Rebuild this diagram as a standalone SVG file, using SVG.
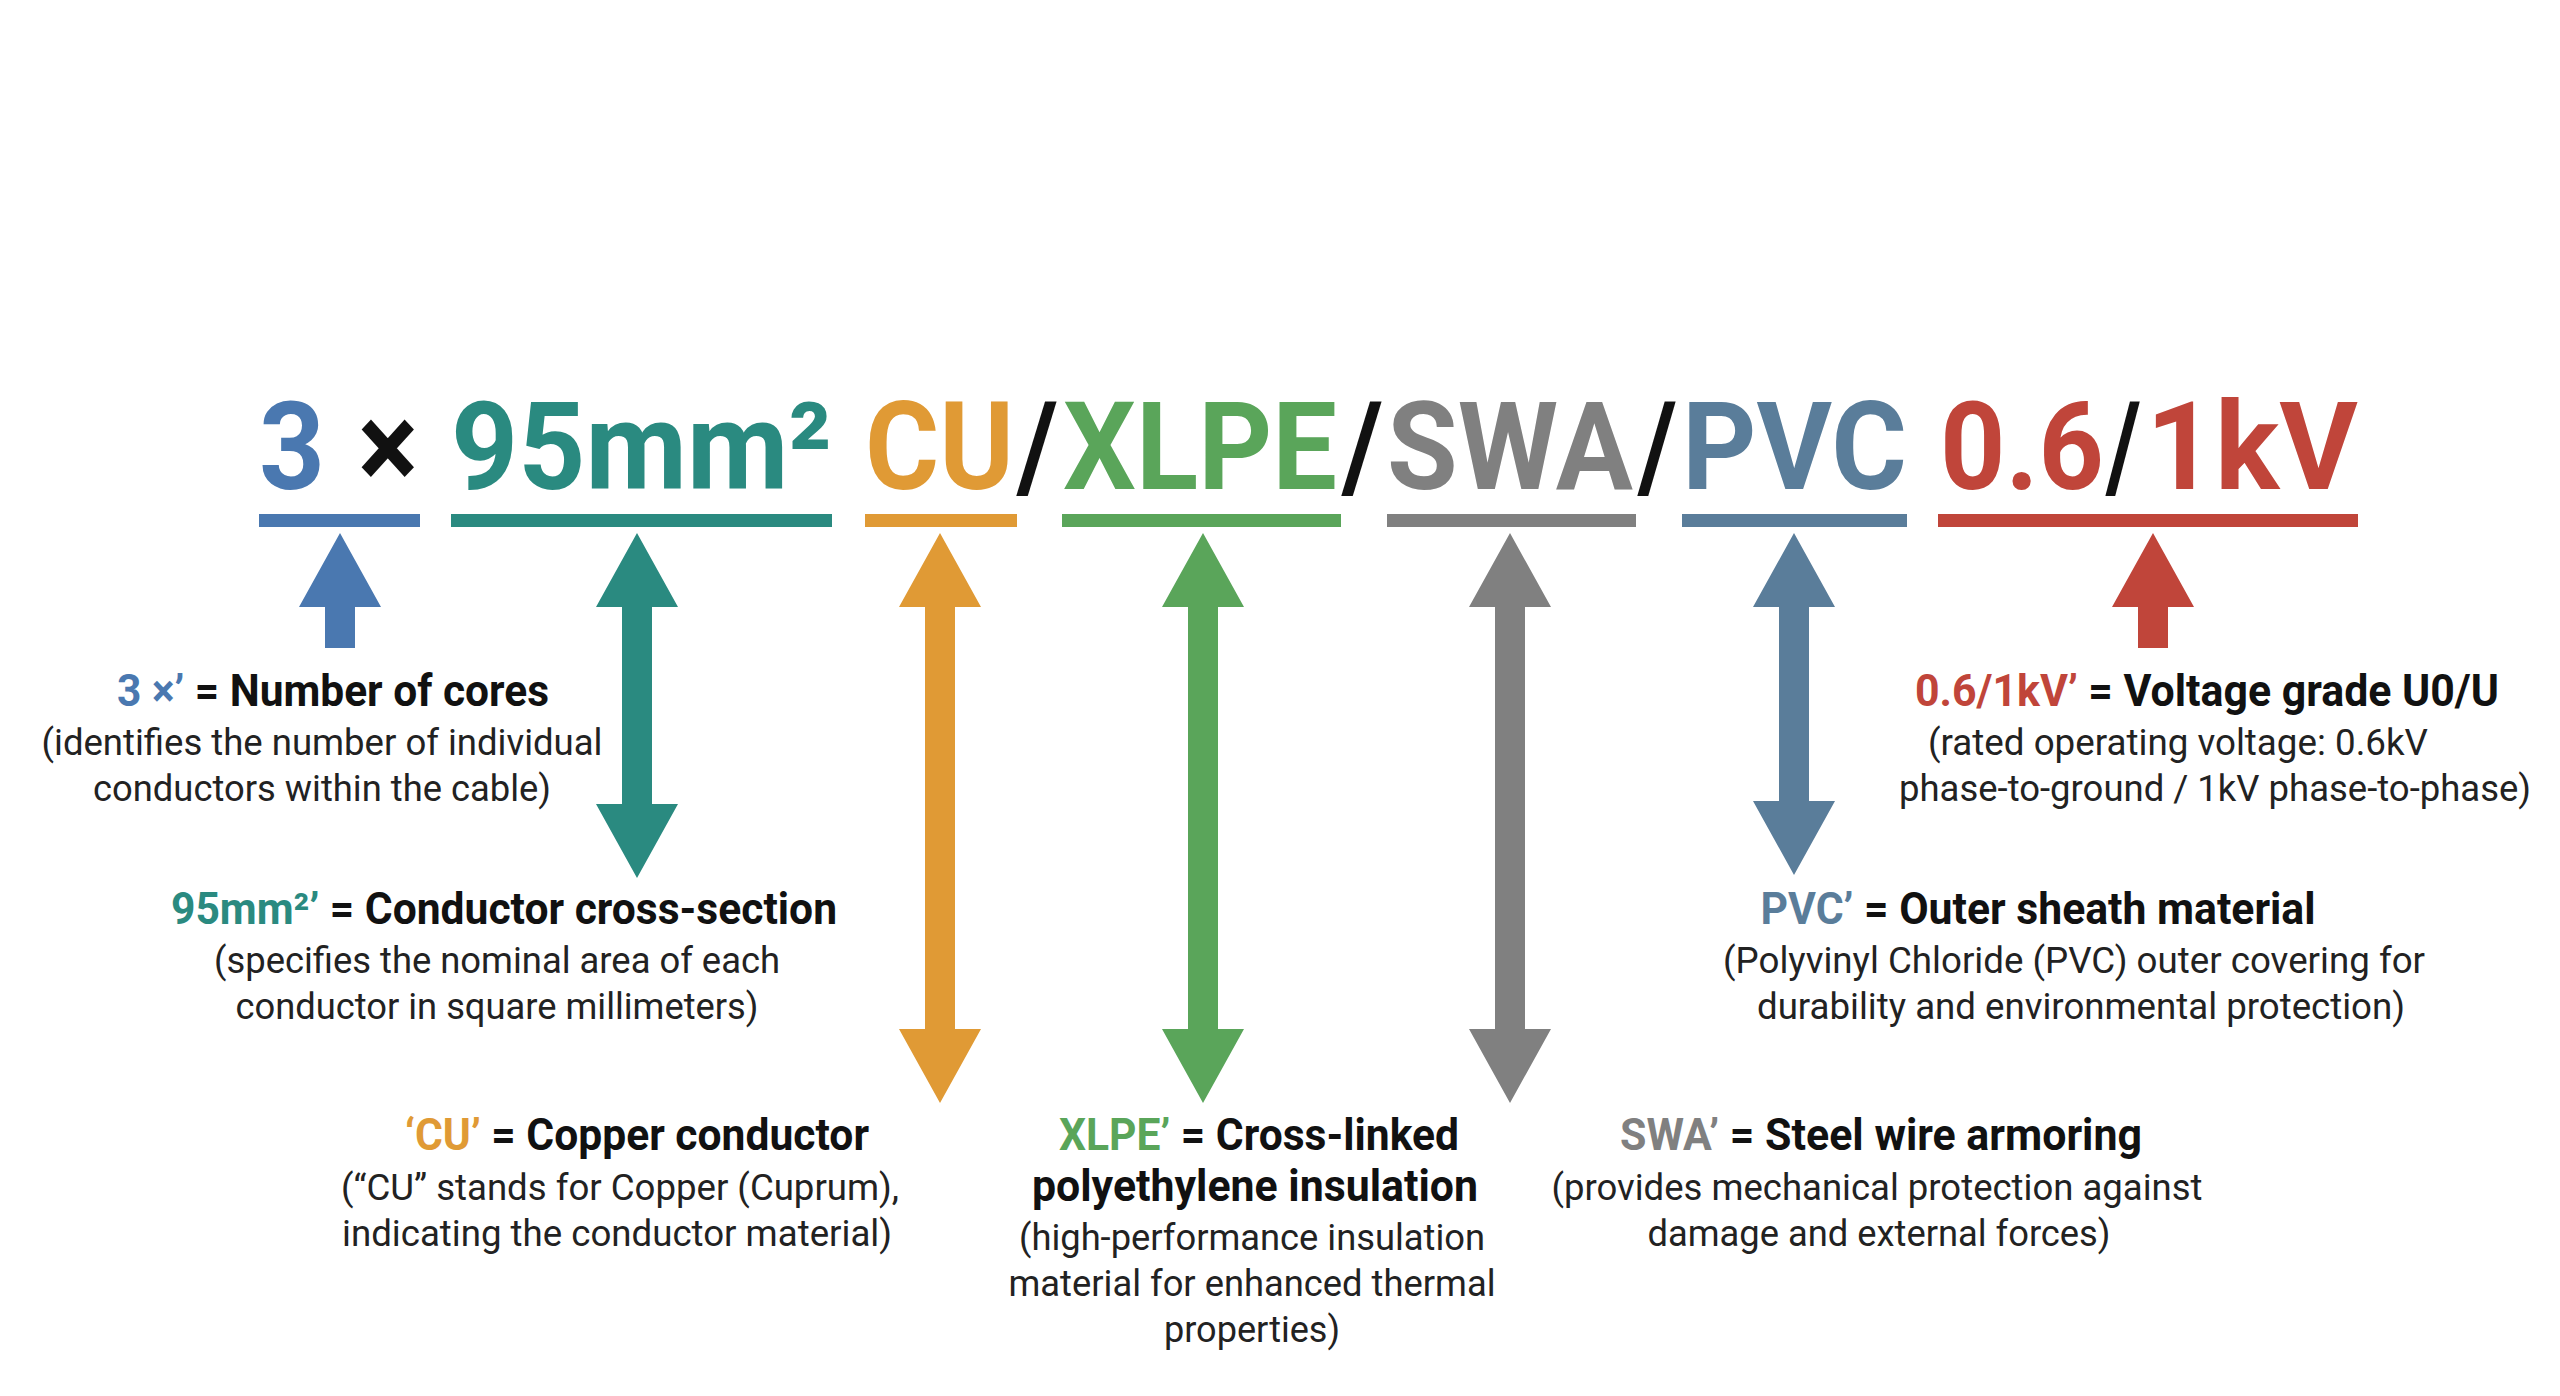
<svg xmlns="http://www.w3.org/2000/svg" width="2560" height="1396" viewBox="0 0 2560 1396">
<style>
.big{font-family:Roboto,"Liberation Sans",sans-serif;font-weight:bold;font-size:122px}
.h{font-family:Roboto,"Liberation Sans",sans-serif;font-weight:bold;font-size:44px;fill:#111;text-anchor:middle}
.b{font-family:Roboto,"Liberation Sans",sans-serif;font-size:36px;fill:#222;text-anchor:middle}
.c1{fill:#4a78b0}.c2{fill:#2a8a80}.c3{fill:#e09a35}.c4{fill:#5aa55a}.c5{fill:#808080}.c6{fill:#5a7d9a}.c7{fill:#c0453a}.k{fill:#111}
</style>
<rect width="2560" height="1396" fill="#fff"/>
<g id="code">
<text class="big c1" x="259" y="489" textLength="66" lengthAdjust="spacingAndGlyphs">3</text>
<text class="big k" x="358" y="489" textLength="60" lengthAdjust="spacingAndGlyphs">×</text>
<text class="big c2" x="451" y="489" textLength="381" lengthAdjust="spacingAndGlyphs">95mm²</text>
<text class="big c3" x="865" y="489" textLength="149" lengthAdjust="spacingAndGlyphs">CU</text>
<text class="big k" x="1017" y="489" textLength="41" lengthAdjust="spacingAndGlyphs">/</text>
<text class="big c4" x="1063" y="489" textLength="274" lengthAdjust="spacingAndGlyphs">XLPE</text>
<text class="big k" x="1342" y="489" textLength="41" lengthAdjust="spacingAndGlyphs">/</text>
<text class="big c5" x="1387" y="489" textLength="246" lengthAdjust="spacingAndGlyphs">SWA</text>
<text class="big k" x="1638" y="489" textLength="39" lengthAdjust="spacingAndGlyphs">/</text>
<text class="big c6" x="1682" y="489" textLength="225" lengthAdjust="spacingAndGlyphs">PVC</text>
<text class="big c7" x="1940" y="489" textLength="164" lengthAdjust="spacingAndGlyphs">0.6</text>
<text class="big k" x="2106" y="489" textLength="35" lengthAdjust="spacingAndGlyphs">/</text>
<text class="big c7" x="2146" y="489" textLength="212" lengthAdjust="spacingAndGlyphs">1kV</text>
</g>
<g id="underlines">
<rect class="c1" x="259" y="514" width="161" height="13"/>
<rect class="c2" x="451" y="514" width="381" height="13"/>
<rect class="c3" x="865" y="514" width="152" height="13"/>
<rect class="c4" x="1062" y="514" width="279" height="13"/>
<rect class="c5" x="1387" y="514" width="249" height="13"/>
<rect class="c6" x="1682" y="514" width="225" height="13"/>
<rect class="c7" x="1938" y="514" width="420" height="13"/>
</g>
<g id="connectors">
<polygon class="c1" points="340,533 381,607 355,607 355,648 325,648 325,607 299,607"/>
<polygon class="c2" points="637,533 678,607 652,607 652,804 678,804 637,878 596,804 622,804 622,607 596,607"/>
<polygon class="c3" points="940,533 981,607 955,607 955,1029 981,1029 940,1103 899,1029 925,1029 925,607 899,607"/>
<polygon class="c4" points="1203,533 1244,607 1218,607 1218,1029 1244,1029 1203,1103 1162,1029 1188,1029 1188,607 1162,607"/>
<polygon class="c5" points="1510,533 1551,607 1525,607 1525,1029 1551,1029 1510,1103 1469,1029 1495,1029 1495,607 1469,607"/>
<polygon class="c6" points="1794,533 1835,607 1809,607 1809,801 1835,801 1794,875 1753,801 1779,801 1779,607 1753,607"/>
<polygon class="c7" points="2153,533 2194,607 2168,607 2168,648 2138,648 2138,607 2112,607"/>
</g>
<g id="n1">
<text class="h" x="333" y="706" textLength="432" lengthAdjust="spacingAndGlyphs"><tspan class="c1">3 ×’</tspan> = Number of cores</text>
<text class="b" x="322" y="755" textLength="561" lengthAdjust="spacingAndGlyphs">(identifies the number of individual</text>
<text class="b" x="322" y="801" textLength="458" lengthAdjust="spacingAndGlyphs">conductors within the cable)</text>
</g>
<g id="n2">
<text class="h" x="504" y="924" textLength="666" lengthAdjust="spacingAndGlyphs"><tspan class="c2">95mm²’</tspan> = Conductor cross-section</text>
<text class="b" x="497" y="973" textLength="566" lengthAdjust="spacingAndGlyphs">(specifies the nominal area of each</text>
<text class="b" x="497" y="1019" textLength="523" lengthAdjust="spacingAndGlyphs">conductor in square millimeters)</text>
</g>
<g id="n3">
<text class="h" x="637" y="1150" textLength="464" lengthAdjust="spacingAndGlyphs"><tspan class="c3">‘CU’</tspan> = Copper conductor</text>
<text class="b" x="620" y="1200" textLength="558" lengthAdjust="spacingAndGlyphs">(“CU” stands for Copper (Cuprum),</text>
<text class="b" x="617" y="1246" textLength="550" lengthAdjust="spacingAndGlyphs">indicating the conductor material)</text>
</g>
<g id="n4">
<text class="h" x="1259" y="1150" textLength="400" lengthAdjust="spacingAndGlyphs"><tspan class="c4">XLPE’</tspan> = Cross-linked</text>
<text class="h" x="1255" y="1201" textLength="446" lengthAdjust="spacingAndGlyphs">polyethylene insulation</text>
<text class="b" x="1252" y="1250" textLength="466" lengthAdjust="spacingAndGlyphs">(high-performance insulation</text>
<text class="b" x="1252" y="1296" textLength="487" lengthAdjust="spacingAndGlyphs">material for enhanced thermal</text>
<text class="b" x="1252" y="1342" textLength="176" lengthAdjust="spacingAndGlyphs">properties)</text>
</g>
<g id="n5">
<text class="h" x="1881" y="1150" textLength="522" lengthAdjust="spacingAndGlyphs"><tspan class="c5">SWA’</tspan> = Steel wire armoring</text>
<text class="b" x="1877" y="1200" textLength="651" lengthAdjust="spacingAndGlyphs">(provides mechanical protection against</text>
<text class="b" x="1879" y="1246" textLength="463" lengthAdjust="spacingAndGlyphs">damage and external forces)</text>
</g>
<g id="n6">
<text class="h" x="2038" y="924" textLength="555" lengthAdjust="spacingAndGlyphs"><tspan class="c6">PVC’</tspan> = Outer sheath material</text>
<text class="b" x="2074" y="973" textLength="702" lengthAdjust="spacingAndGlyphs">(Polyvinyl Chloride (PVC) outer covering for</text>
<text class="b" x="2081" y="1019" textLength="648" lengthAdjust="spacingAndGlyphs">durability and environmental protection)</text>
</g>
<g id="n7">
<text class="h" x="2207" y="706" textLength="584" lengthAdjust="spacingAndGlyphs"><tspan class="c7">0.6/1kV’</tspan> = Voltage grade U0/U</text>
<text class="b" x="2178" y="755" textLength="500" lengthAdjust="spacingAndGlyphs">(rated operating voltage: 0.6kV</text>
<text class="b" x="2215" y="801" textLength="632" lengthAdjust="spacingAndGlyphs">phase-to-ground / 1kV phase-to-phase)</text>
</g>
</svg>
